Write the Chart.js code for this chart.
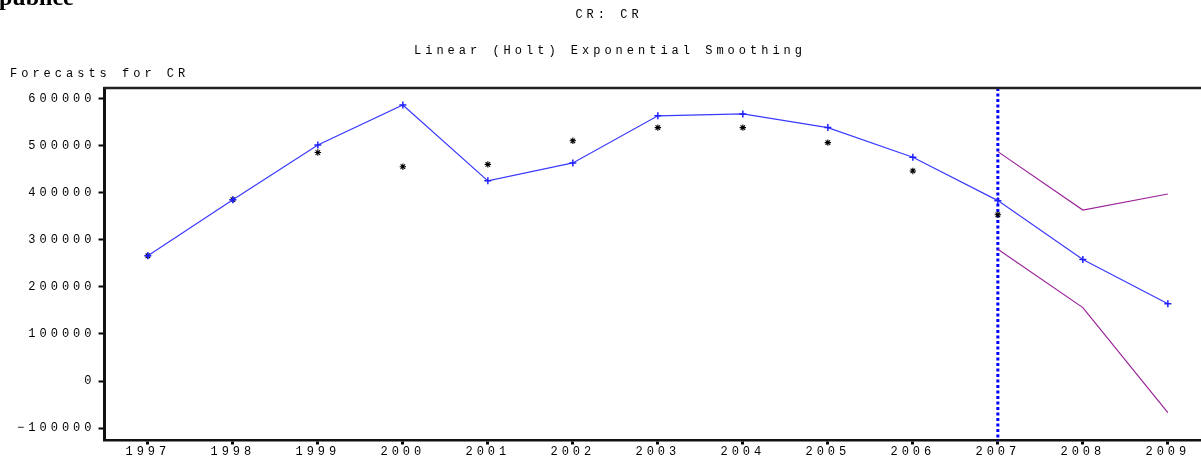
<!DOCTYPE html>
<html>
<head>
<meta charset="utf-8">
<title>Forecasts for CR</title>
<script src="https://cdn.jsdelivr.net/npm/chart.js@4.4.1/dist/chart.umd.min.js"></script>
<style>
  html, body { margin: 0; padding: 0; background: #fff; }
  canvas { display: block; }
</style>
</head>
<body>
<canvas id="forecastChart" width="1201" height="459"></canvas>
<script>
// values
const years = [1997, 1998, 1999, 2000, 2001, 2002, 2003, 2004, 2005, 2006, 2007, 2008, 2009]
const fitted = [266000, 385000, 501000, 586000, 425000, 463000, 563000, 567000, 538000, 475000, 383000, 258000, 164000]
const actualYears = [1997, 1998, 1999, 2000, 2001, 2002, 2003, 2004, 2005, 2006, 2007]
const actual = [266000, 385000, 485000, 455000, 460000, 510000, 538000, 538000, 506000, 446000, 353000]
const boundYears = [2007, 2008, 2009]
const upper = [487000, 363000, 397000]
const lower = [280000, 156000, -67000]
const yTicks = [-100000, 0, 100000, 200000, 300000, 400000, 500000, 600000]
const forecastStart = 2007

const FONT = "'Liberation Mono', 'DejaVu Sans Mono', monospace"
const SPACING = "4px"

function toPoints(xs, ys) {
  return xs.map((x, i) => ({ x: x, y: ys[i] }))
}

const decorPlugin = {
  id: "decor",
  beforeDraw(chart) {
    chart.ctx.letterSpacing = SPACING
  },
  beforeDatasetsDraw(chart) {
    // forecast origin line
    const ctx = chart.ctx
    const area = chart.chartArea
    const x = chart.scales.x.getPixelForValue(forecastStart)
    ctx.save()
    ctx.strokeStyle = "#0000ff"
    ctx.lineWidth = 3
    ctx.setLineDash([3, 2.5])
    ctx.beginPath()
    ctx.moveTo(x, area.top)
    ctx.lineTo(x, area.bottom)
    ctx.stroke()
    ctx.restore()
  },
  afterDraw(chart) {
    const ctx = chart.ctx
    const area = chart.chartArea
    ctx.save()
    // frame top
    ctx.strokeStyle = "#222"
    ctx.lineWidth = 2.5
    ctx.beginPath()
    ctx.moveTo(area.left - 1, area.top)
    ctx.lineTo(area.right, area.top)
    ctx.stroke()

    ctx.fillStyle = "#000"
    ctx.font = "12px " + FONT
    ctx.textBaseline = "middle"
    ctx.textAlign = "center"
    ctx.fillText("CR: CR", 609, 15)
    ctx.fillText("Linear (Holt) Exponential Smoothing", 610, 51)
    ctx.textAlign = "left"
    ctx.fillText("Forecasts for CR", 10, 74)

    // leftover heading from the page above
    ctx.letterSpacing = "0px"
    ctx.font = "bold 24px 'Liberation Serif', 'Times New Roman', serif"
    ctx.textBaseline = "alphabetic"
    ctx.fillText("publice", -1, 5)
    ctx.restore()
  },
}

const ctx = document.getElementById("forecastChart").getContext("2d")
const forecastChart = new Chart(ctx, {
  type: "line",
  data: {
    datasets: [
      {
        label: "Forecast",
        data: toPoints(years, fitted),
        borderColor: "#3a3aff",
        borderWidth: 1.2,
        pointStyle: "cross",
        pointRadius: 3.5,
        pointBorderWidth: 1.5,
        pointBorderColor: "#2020ff",
        tension: 0,
      },
      {
        label: "Actual",
        data: toPoints(actualYears, actual),
        showLine: false,
        pointStyle: "star",
        pointRadius: 3.2,
        pointBorderWidth: 1.1,
        pointBorderColor: "#000",
        pointBackgroundColor: "#000",
      },
      {
        label: "Upper",
        data: toPoints(boundYears, upper),
        borderColor: "#992299",
        borderWidth: 1.2,
        pointRadius: 0,
      },
      {
        label: "Lower",
        data: toPoints(boundYears, lower),
        borderColor: "#992299",
        borderWidth: 1.2,
        pointRadius: 0,
      },
    ],
  },
  options: {
    responsive: false,
    animation: false,
    layout: {
      autoPadding: false,
      padding: { top: 88, right: 0, bottom: 0, left: 0 },
    },
    plugins: {
      legend: { display: false },
      tooltip: { enabled: false },
    },
    scales: {
      x: {
        type: "linear",
        min: 1996.49,
        max: 2009.39,
        afterBuildTicks: (scale) => {
          scale.ticks = years.map((v) => ({ value: v }))
        },
        afterFit: (scale) => {
          scale.height = 18.5
        },
        grid: {
          drawOnChartArea: false,
          drawTicks: true,
          tickLength: 4,
          tickWidth: 3,
          tickColor: "#000",
        },
        border: { display: true, color: "#111", width: 2.5 },
        ticks: {
          color: "#000",
          font: { family: FONT, size: 12 },
          padding: 0,
          maxRotation: 0,
          autoSkip: false,
          callback: (v) => String(v),
        },
      },
      y: {
        min: -126000,
        max: 622000,
        afterBuildTicks: (scale) => {
          scale.ticks = yTicks.map((v) => ({ value: v }))
        },
        afterFit: (scale) => {
          scale.width = 104.5
        },
        grid: {
          drawOnChartArea: false,
          drawTicks: true,
          tickLength: 6,
          tickWidth: 2,
          tickColor: "#000",
        },
        border: { display: true, color: "#111", width: 3 },
        ticks: {
          color: "#000",
          font: { family: FONT, size: 12 },
          padding: 3,
          callback: (v) => (v < 0 ? "\u2212" + Math.abs(v) : String(v)),
        },
      },
    },
  },
  plugins: [decorPlugin],
})
</script>
</body>
</html>
